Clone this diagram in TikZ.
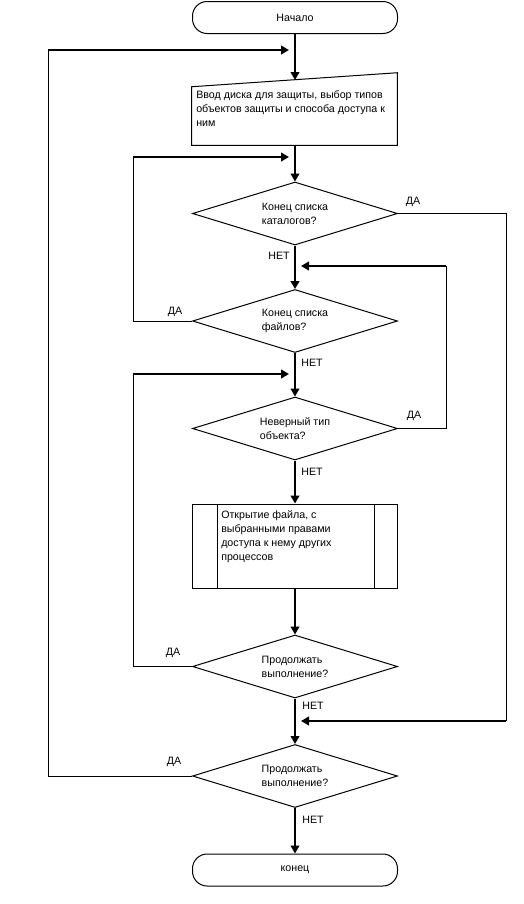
\documentclass[tikz,border=0pt]{standalone}
\usepackage{fontspec}
\setmainfont{Liberation Sans}
\usetikzlibrary{arrows.meta,shapes.geometric,calc}
\begin{document}
\begin{tikzpicture}[x=0.75pt,y=-0.75pt,
  font=\fontsize{8}{10.5}\selectfont,
  thin line/.style={line width=0.75pt},
  flow/.style={line width=1.9pt,-{Triangle[length=6pt,width=6.5pt]}},
  term/.style={draw,line width=0.75pt,rectangle,rounded corners=11pt,minimum width=153.75pt,minimum height=24pt,inner sep=0pt},
  dec/.style={draw,line width=0.75pt,diamond,aspect=3.25,minimum width=153.75pt,minimum height=47.25pt,inner sep=0pt,align=left},
  lbl/.style={inner sep=0pt}
]
\useasboundingbox (0,0) rectangle (524,904);
% nodes
\node[term] (start) at (295,17.5) {Начало};
\node[rectangle,minimum width=153.75pt,minimum height=54pt,inner sep=0pt] (inbox) at (294.5,109) {};
\draw[thin line] ($(inbox.north west)+(0,14)$) -- (inbox.north east) -- (inbox.south east) -- (inbox.south west) -- cycle;
\node[lbl,anchor=north west,align=left] (intext) at (196,90) {Ввод диска для защиты, выбор типов\\объектов защиты и способа доступа к\\ним};
\coordinate (boxtop) at (295,80);

\node[dec] (d1) at (295,213.5) {Конец списка\\каталогов?};
\node[dec] (d2) at (295,321) {Конец списка\\файлов?};
\node[dec] (d3) at (295,428.5) {Неверный тип\\объекта?};
\node[draw,thin line,rectangle,minimum width=153.75pt,minimum height=63pt,inner sep=0pt] (proc) at (294.5,546) {};
\draw[thin line] (217,504) -- (217,588);
\draw[thin line] (374,504) -- (374,588);
\node[lbl,anchor=north west,align=left] (proctext) at (221,510) {Открытие файла, с\\выбранными правами\\доступа к нему других\\процессов};
\node[dec] (d4) at (295,666.5) {Продолжать\\выполнение?};
\node[dec] (d5) at (295,776) {Продолжать\\выполнение?};
\node[term] (end) at (295,870) {конец};

% labels
\node[lbl] (da1) at (413,202) {ДА};
\node[lbl] (net1) at (279,256) {НЕТ};
\node[lbl] (da2) at (175,312) {ДА};
\node[lbl] (net2) at (312,363) {НЕТ};
\node[lbl] (da3) at (414,416) {ДА};
\node[lbl] (net3) at (312,472) {НЕТ};
\node[lbl] (da4) at (173,653) {ДА};
\node[lbl] (net4) at (313,706) {НЕТ};
\node[lbl] (da5) at (174,762) {ДА};
\node[lbl] (net5) at (313,820) {НЕТ};

% main stem
\draw[flow] (start.south) -- (boxtop);
\draw[flow] (inbox.south -| boxtop) -- (d1.north);
\draw[flow] (d1.south) -- (d2.north);
\draw[flow] (d2.south) -- (d3.north);
\draw[flow] (d3.south) -- (proc.north -| boxtop);
\draw[flow] (proc.south -| boxtop) -- (d4.north);
\draw[flow] (d4.south) -- (d5.north);
\draw[flow] (d5.south) -- (end.north);

% loop corners
\coordinate (l1) at (48,50);
\coordinate (l2) at (133,157);
\coordinate (l3) at (133,374);
\coordinate (r1) at (446,266);
\coordinate (r2) at (506,721);

% loops
\draw[thin line] (d5.west) -| (l1);
\draw[flow] (l1) -- ($(l1 -| boxtop)+(-6,0)$);
\draw[thin line] (d2.west) -| (l2);
\draw[flow] (l2) -- ($(l2 -| boxtop)+(-6,0)$);
\draw[thin line] (d4.west) -| (l3);
\draw[flow] (l3) -- ($(l3 -| boxtop)+(-6,0)$);
\draw[thin line] (d3.east) -| (r1);
\draw[flow] (r1) -- ($(r1 -| boxtop)+(6,0)$);
\draw[thin line] (d1.east) -| (r2);
\draw[flow] (r2) -- ($(r2 -| boxtop)+(6,0)$);
\end{tikzpicture}
\end{document}
